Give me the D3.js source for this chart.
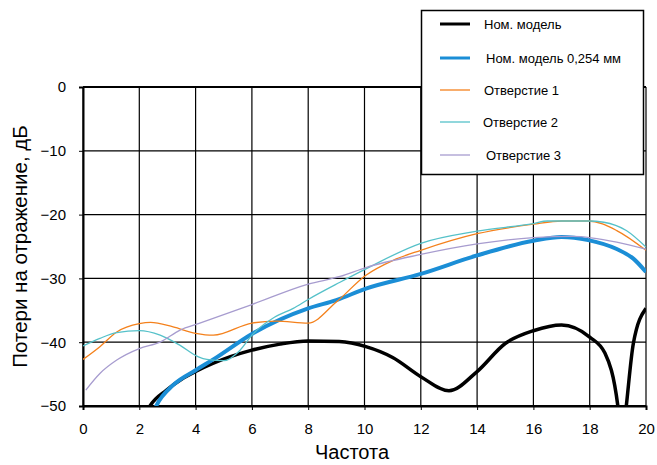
<!DOCTYPE html>
<html>
<head>
<meta charset="utf-8">
<script src="https://cdn.jsdelivr.net/npm/d3@7"></script>
<style>
  body { margin: 0; background: #fff; }
  text { font-family: "Liberation Sans", Arial, sans-serif; }
</style>
</head>
<body>
<svg id="chart" width="657" height="465"></svg>
<script>
const xTicks = [0, 2, 4, 6, 8, 10, 12, 14, 16, 18, 20];
const yTicks = [0, -10, -20, -30, -40, -50];

const seriesNames = ['Ном. модель', 'Ном. модель 0,254 мм', 'Отверстие 1', 'Отверстие 2', 'Отверстие 3'];

// [частота, дБ]
const nominal = [
  [2.2, -51.5], [2.38, -50], [2.97, -47.5], [3.5, -45.8], [4.0, -44.6], [4.63, -43.3],
  [6.0, -41.25], [7.0, -40.3], [8.0, -39.8], [9.1, -39.9], [10.05, -40.7],
  [11.0, -42.4], [12.0, -45.4], [13.0, -47.6], [14.0, -44.6], [15.0, -40.2],
  [16.0, -38.2], [17.0, -37.3], [18.0, -39.2], [18.54, -41.7], [19.0, -50],
  [19.15, -56], [19.3, -50], [19.55, -40.2], [20.0, -34.7]
];
const nominal254 = [
  [2.45, -51.5], [2.6, -50], [3.21, -46.7], [4.0, -44.4], [4.63, -42.7], [6.0, -38.7],
  [8.0, -34.7], [9.0, -33.4], [10.05, -31.6], [12.0, -29.3], [14.0, -26.4],
  [16.0, -24.1], [17.0, -23.5], [17.95, -24.0], [18.96, -25.4], [19.55, -26.9],
  [20.0, -29.0]
];
const hole1 = [
  [0, -42.7], [0.6, -40.7], [1.2, -38.4], [2.0, -37.1], [2.4, -36.9], [3.2, -37.6],
  [4.0, -38.6], [4.63, -38.9], [6.0, -37.0], [6.87, -36.7], [8.0, -37.0],
  [9.0, -33.7], [10.05, -29.5], [11.0, -27.2], [12.0, -25.6], [14.0, -23.0],
  [16.0, -21.5], [17.0, -21.0], [17.95, -21.0], [18.96, -22.5], [20.0, -25.6]
];
const hole2 = [
  [0, -40.6], [0.6, -39.4], [1.2, -38.5], [2.0, -38.2], [2.74, -38.9], [3.45, -40.5],
  [4.1, -42.3], [4.4, -42.7], [5.0, -42.9], [5.58, -41.25], [6.0, -38.9],
  [6.8, -36.1], [7.47, -34.7], [8.0, -33.3], [9.13, -30.6], [10.05, -28.5],
  [12.0, -24.5], [14.0, -22.6], [16.0, -21.4], [16.5, -21.0], [17.95, -21.0],
  [18.5, -21.2], [19.3, -22.5], [20.0, -25.1]
];
const hole3 = [
  [0.1, -47.5], [0.6, -44.9], [1.2, -42.8], [2.0, -41.0], [2.74, -40.0], [3.45, -38.1],
  [4.1, -37.1], [6.0, -34.1], [8.0, -30.9], [9.13, -29.7], [10.05, -28.3],
  [12.0, -26.25], [14.0, -24.6], [16.0, -23.6], [17.4, -23.4], [18.96, -24.3],
  [20.0, -25.4]
];

const colors = ['#000000', '#1b8ed6', '#f4811c', '#55c1c9', '#a79ccf'];
const widths = [3.5, 4, 1.3, 1.3, 1.3];
const allSeries = [nominal, nominal254, hole1, hole2, hole3];

const margin = { left: 83, right: 11, top: 87, bottom: 59 };
const W = 657, H = 465;

const svg = d3.select('#chart');

const x = d3.scaleLinear().domain([0, 20]).range([margin.left, W - margin.right]);
const y = d3.scaleLinear().domain([-50, 0]).range([H - margin.bottom, margin.top]);

svg.append('defs').append('clipPath')
  .attr('id', 'plot-clip')
  .append('rect')
  .attr('x', x(0)).attr('y', y(0))
  .attr('width', x(20) - x(0)).attr('height', y(-50) - y(0));

// grid
const grid = svg.append('g').attr('class', 'grid');
grid.selectAll('.vline')
  .data(xTicks)
  .enter()
  .append('line')
  .attr('x1', d => x(d)).attr('x2', d => x(d))
  .attr('y1', y(0)).attr('y2', y(-50))
  .attr('stroke', '#000')
  .attr('stroke-width', 1.2);
grid.selectAll('.hline')
  .data(yTicks)
  .enter()
  .append('line')
  .attr('x1', x(0)).attr('x2', x(20))
  .attr('y1', d => y(d)).attr('y2', d => y(d))
  .attr('stroke', '#000')
  .attr('stroke-width', d => (d === 0 || d === -50) ? 2 : 1.2);

// axes
const fmt = d => d < 0 ? '\u2212' + Math.abs(d) : String(d);
const fontFam = '"Liberation Sans", Arial, sans-serif';

svg.append('g')
  .attr('transform', `translate(0, ${y(-50)})`)
  .call(d3.axisBottom(x).tickValues(xTicks).tickSize(4).tickPadding(13).tickFormat(fmt))
  .call(g => g.select('.domain').attr('stroke-width', 2))
  .call(g => g.selectAll('text').attr('font-size', 15).attr('fill', '#000').attr('font-family', fontFam));

svg.append('g')
  .attr('transform', `translate(${x(0)}, 0)`)
  .call(d3.axisLeft(y).tickValues(yTicks).tickSize(4).tickPadding(13).tickFormat(fmt))
  .call(g => g.select('.domain').attr('stroke-width', 2))
  .call(g => g.selectAll('text').attr('font-size', 15).attr('fill', '#000').attr('font-family', fontFam));

// lines
const line = d3.line()
  .x(d => x(d[0]))
  .y(d => y(d[1]))
  .curve(d3.curveMonotoneX);

svg.append('g')
  .attr('clip-path', 'url(#plot-clip)')
  .selectAll('path')
  .data(allSeries)
  .enter()
  .append('path')
  .attr('d', d => line(d))
  .attr('fill', 'none')
  .attr('stroke', (d, i) => colors[i])
  .attr('stroke-width', (d, i) => widths[i])
  .attr('stroke-linejoin', 'round');

// axis titles
svg.append('text')
  .attr('x', 352)
  .attr('y', 459)
  .attr('text-anchor', 'middle')
  .attr('font-size', 20)
  .text('Частота');

svg.append('text')
  .attr('transform', `translate(27, ${(y(0) + y(-50)) / 2}) rotate(-90)`)
  .attr('text-anchor', 'middle')
  .attr('font-size', 20.5)
  .text('Потери на отражение, дБ');

// legend
const legend = svg.append('g').attr('class', 'legend');
legend.append('rect')
  .attr('x', 421.5).attr('y', 10.5)
  .attr('width', 222).attr('height', 164)
  .attr('fill', '#fff')
  .attr('stroke', '#000')
  .attr('stroke-width', 1.5);

const legendY = [24, 58, 90, 122, 155];
const legendTextX = [484, 486, 484, 483, 486];

const items = legend.selectAll('.item')
  .data(seriesNames)
  .enter()
  .append('g')
  .attr('class', 'item');

items.append('line')
  .attr('x1', 440).attr('x2', 470)
  .attr('y1', (d, i) => legendY[i]).attr('y2', (d, i) => legendY[i])
  .attr('stroke', (d, i) => colors[i])
  .attr('stroke-width', (d, i) => i < 2 ? 3 : 1.3);

items.append('text')
  .attr('x', (d, i) => legendTextX[i])
  .attr('y', (d, i) => legendY[i] + 4.5)
  .attr('font-size', 13)
  .text(d => d);
</script>
</body>
</html>
